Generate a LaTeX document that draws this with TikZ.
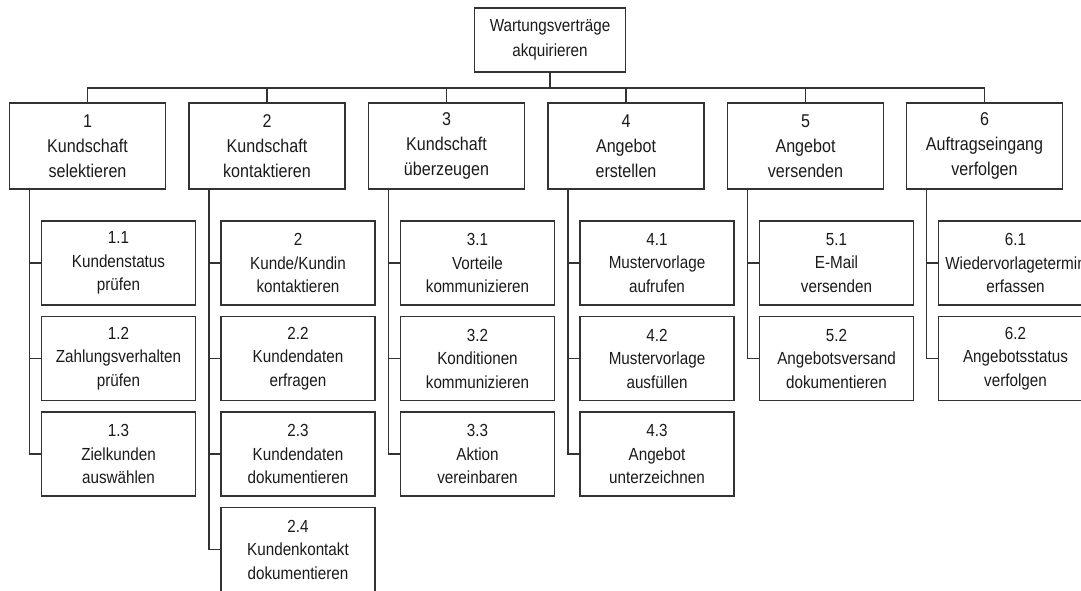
\documentclass[tikz,border=0pt]{standalone}
\usepackage{fontspec}
\setmainfont{Liberation Sans}[FakeStretch=0.87]
\usepackage{xcolor}
\usepackage{tikz}
\definecolor{wirecol}{HTML}{333333}
\definecolor{ink}{HTML}{1A1A1A}
\tikzset{
  taskbox/.style={draw=wirecol, line width=1.3pt, rectangle, align=center, inner sep=0pt, text=ink},
  topbox/.style={taskbox, minimum width=151pt, minimum height=64pt, font=\fontsize{17.5}{25}\selectfont},
  phasebox/.style={taskbox, minimum width=156pt, minimum height=86pt, font=\fontsize{18.5}{25}\selectfont},
  subbox/.style={taskbox, minimum width=154pt, minimum height=84pt, font=\fontsize{17.5}{23.5}\selectfont},
  wire/.style={draw=wirecol, line width=1.2pt},
}

\begin{document}
\begin{tikzpicture}[x=1pt,y=-1pt]
  \useasboundingbox (0,0) rectangle (1081,591);
  \clip (0,0) rectangle (1081,591);
  \node[topbox] (top) at (550,40) {Wartungsverträge\\akquirieren};
  \coordinate (bus) at (550,88);
  % phases
  \node[phasebox] (p1) at (87.5,146) {1\\Kundschaft\\selektieren};
  \node[phasebox] (p2) at (267,146) {2\\Kundschaft\\kontaktieren};
  \node[phasebox] (p3) at (446.5,146) {3\\Kundschaft\\überzeugen};
  \node[phasebox] (p4) at (626,146) {4\\Angebot\\erstellen};
  \node[phasebox] (p5) at (805.5,146) {5\\Angebot\\versenden};
  \node[phasebox] (p6) at (984.5,146) {6\\Auftragseingang\\verfolgen};
  % work packages
  \node[subbox] (s11) at (118.5,263) {1.1\\Kundenstatus\\prüfen};
  \node[subbox] (s12) at (118.5,358.5) {1.2\\Zahlungsverhalten\\prüfen};
  \node[subbox] (s13) at (118.5,454) {1.3\\Zielkunden\\auswählen};
  \node[subbox] (s21) at (298,263) {2\\Kunde/Kundin\\kontaktieren};
  \node[subbox] (s22) at (298,358.5) {2.2\\Kundendaten\\erfragen};
  \node[subbox] (s23) at (298,454) {2.3\\Kundendaten\\dokumentieren};
  \node[subbox] (s24) at (298,549.5) {2.4\\Kundenkontakt\\dokumentieren};
  \node[subbox] (s31) at (477.5,263) {3.1\\Vorteile\\kommunizieren};
  \node[subbox] (s32) at (477.5,358.5) {3.2\\Konditionen\\kommunizieren};
  \node[subbox] (s33) at (477.5,454) {3.3\\Aktion\\vereinbaren};
  \node[subbox] (s41) at (657,263) {4.1\\Mustervorlage\\aufrufen};
  \node[subbox] (s42) at (657,358.5) {4.2\\Mustervorlage\\ausfüllen};
  \node[subbox] (s43) at (657,454) {4.3\\Angebot\\unterzeichnen};
  \node[subbox] (s51) at (836.5,263) {5.1\\E-Mail\\versenden};
  \node[subbox] (s52) at (836.5,358.5) {5.2\\Angebotsversand\\dokumentieren};
  \node[subbox] (s61) at (1015.5,263) {6.1\\Wiedervorlagetermin\\erfassen};
  \node[subbox] (s62) at (1015.5,358.5) {6.2\\Angebotsstatus\\verfolgen};
  % connectors
  \draw[wire] (top.south) -- (bus);
  \foreach \p in {p1,p2,p3,p4,p5,p6}
    \draw[wire] (\p.north) |- (bus);
  \foreach \p/\s in {p1/s11,p1/s12,p1/s13,p2/s21,p2/s22,p2/s23,p2/s24,
                     p3/s31,p3/s32,p3/s33,p4/s41,p4/s42,p4/s43,
                     p5/s51,p5/s52,p6/s61,p6/s62}
    \draw[wire] ([xshift=-58pt]\p.south) |- (\s.west);
\end{tikzpicture}
\end{document}
